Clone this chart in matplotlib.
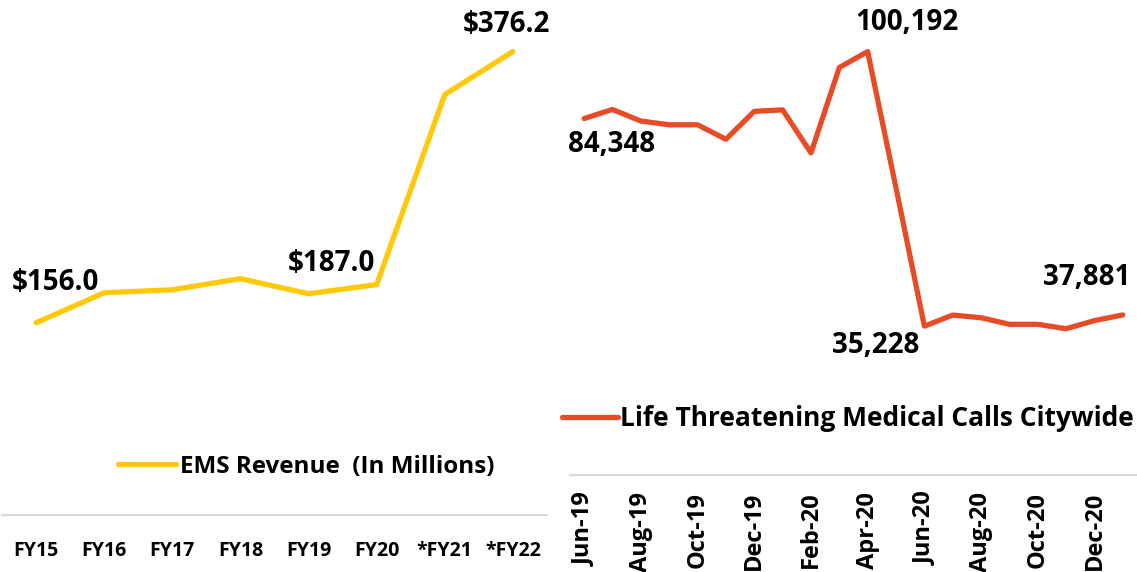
import matplotlib
matplotlib.use("Agg")
import matplotlib.pyplot as plt
from matplotlib.lines import Line2D

plt.rcParams['font.family'] = ['Open Sans', 'DejaVu Sans']
plt.rcParams['font.weight'] = 'bold'

# ---- data ----
fy_labels = ["FY15", "FY16", "FY17", "FY18", "FY19", "FY20", "*FY21", "*FY22"]
ems_revenue = [156.0, 180.4, 182.8, 191.8, 179.6, 187.0, 341.3, 376.2]

months = ["Jun-19", "Jul-19", "Aug-19", "Sep-19", "Oct-19", "Nov-19", "Dec-19",
          "Jan-20", "Feb-20", "Mar-20", "Apr-20", "May-20", "Jun-20", "Jul-20",
          "Aug-20", "Sep-20", "Oct-20", "Nov-20", "Dec-20", "Jan-21"]
calls = [84348, 86499, 83751, 82875, 82875, 79440, 86049, 86405, 76218, 96425,
         100192, 67926, 35228, 37834, 37218, 35655, 35655, 34613, 36532, 37881]

ems_label_idx = [0, 5, 7]
calls_label_idx = [0, 10, 12, 19]

W, H = 1137, 572
fig = plt.figure(figsize=(W / 100, H / 100), dpi=100)

yellow = "#FFC90A"
red = "#E84C27"
grey = "#D9D9D9"

def px_axes(left, right, top, bottom):
    return fig.add_axes([left / W, 1 - bottom / H, (right - left) / W, (bottom - top) / H])

# ---- left panel ----
ax1 = px_axes(2, 547, 0, 515)
x1 = list(range(len(fy_labels)))
ax1.plot(x1, ems_revenue, color=yellow, lw=3.8, solid_capstyle='round')
ax1.set_xlim(-0.5, len(fy_labels) - 0.5)
ax1.set_ylim(0, 418)
ax1.set_xticks(x1)
ax1.set_xticklabels(fy_labels, fontsize=14, fontweight='bold')
ax1.tick_params(axis='x', length=0, pad=19)
ax1.set_yticks([])
for s in ['top', 'left', 'right']:
    ax1.spines[s].set_visible(False)
ax1.spines['bottom'].set_color(grey)
ax1.spines['bottom'].set_linewidth(1.5)
ax1.patch.set_alpha(0)

offsets1 = {0: (19, 40), 5: (-45, 21), 7: (-7, 27)}
for i in ems_label_idx:
    dx, dy = offsets1[i]
    ax1.annotate(f"${ems_revenue[i]:.1f}", (x1[i], ems_revenue[i]), xytext=(dx, dy),
                 textcoords='offset pixels', ha='center', va='center',
                 fontsize=20, fontweight='bold')

# ---- right panel ----
ax2 = px_axes(570, 1137, 0, 475)
x2 = list(range(len(months)))
ax2.plot(x2, calls, color=red, lw=3.8, solid_capstyle='round')
ax2.set_xlim(-0.5, len(months) - 0.5)
ax2.set_ylim(0, 112400)
ax2.set_xticks(x2[::2])
ax2.set_xticklabels(months[::2], rotation=90, fontsize=17, fontweight='bold')
ax2.tick_params(axis='x', length=0, pad=12)
ax2.set_yticks([])
for s in ['top', 'left', 'right']:
    ax2.spines[s].set_visible(False)
ax2.spines['bottom'].set_color(grey)
ax2.spines['bottom'].set_linewidth(1.5)
ax2.patch.set_alpha(0)

offsets2 = {0: (27, -26), 10: (39, 29), 12: (-49, -19), 19: (-36, 37)}
for i in calls_label_idx:
    dx, dy = offsets2[i]
    ax2.annotate(f"{calls[i]:,}", (x2[i], calls[i]), xytext=(dx, dy),
                 textcoords='offset pixels', ha='center', va='center',
                 fontsize=20, fontweight='bold')

# ---- legends ----
h1 = Line2D([], [], color=yellow, lw=3.8, solid_capstyle='round')
fig.legend([h1], ["EMS Revenue  (In Millions)"], loc='center',
           bbox_to_anchor=(306 / W, 1 - 467 / H), frameon=False,
           prop={'size': 17.5, 'weight': 'bold'}, handlelength=2.4, handletextpad=0.15)
h2 = Line2D([], [], color=red, lw=3.8, solid_capstyle='round')
fig.legend([h2], ["Life Threatening Medical Calls Citywide"], loc='center',
           bbox_to_anchor=(848 / W, 1 - 419 / H), frameon=False,
           prop={'size': 19, 'weight': 'bold'}, handlelength=2.1, handletextpad=0.1)

fig.savefig("out.png", dpi=100)
